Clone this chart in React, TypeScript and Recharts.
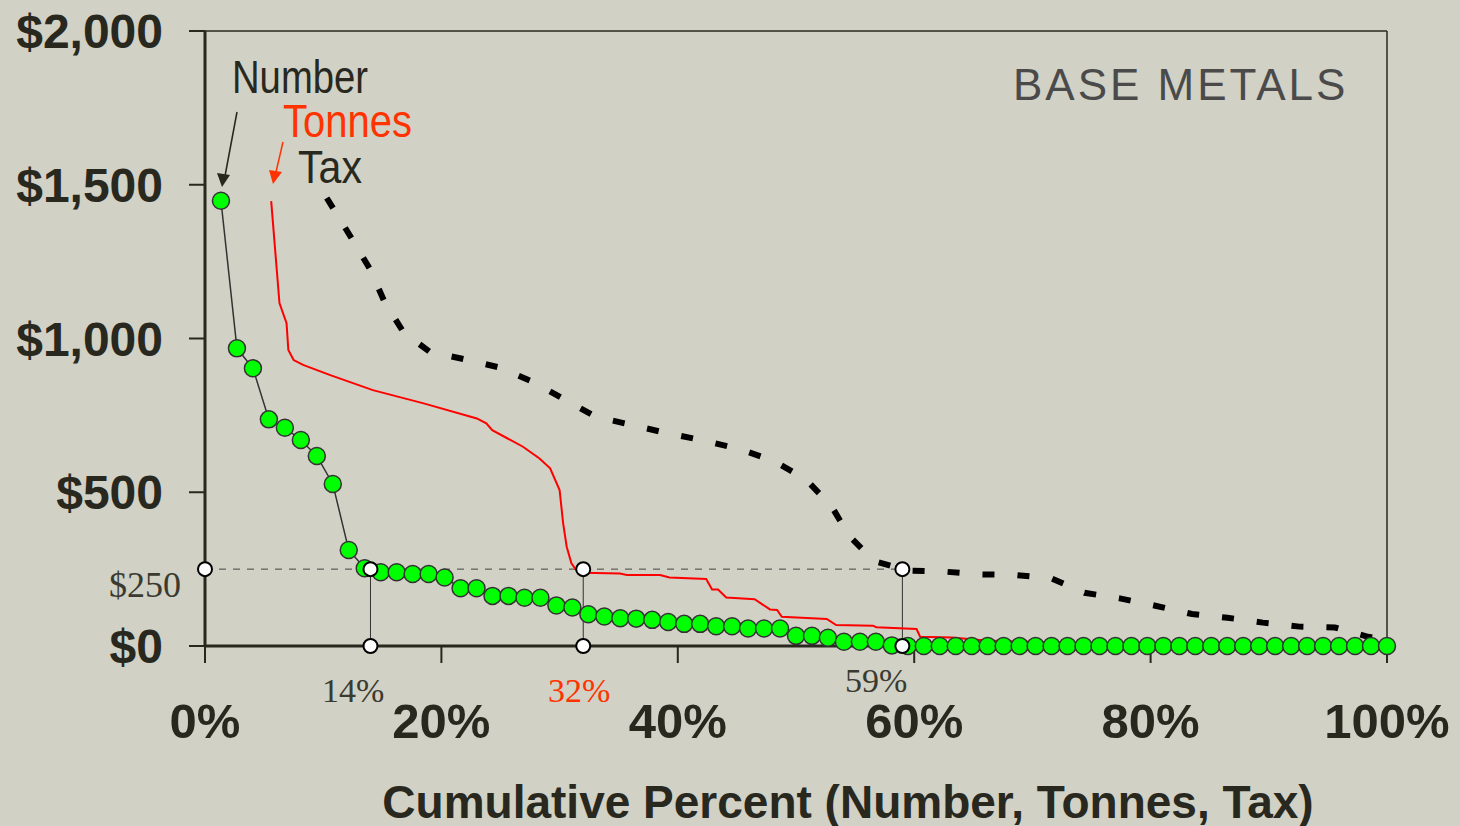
import React from 'react';
import {
  ComposedChart, Line, XAxis, YAxis, ReferenceLine, ReferenceDot,
} from 'recharts';

// tax per mine ($), sorted high to low; one point per mine
const numberValues = [
  1448, 968, 903, 737, 710, 670, 618, 527, 312, 253,
  240, 240, 234, 234, 223, 188, 188, 163, 163, 157,
  157, 132, 125, 103, 96, 90, 89, 85, 78, 72,
  72, 64, 64, 57, 57, 57, 33, 33, 27, 14,
  14, 14, 2, 0, 0, 0, 0, 0, 0, 0,
  0, 0, 0, 0, 0, 0, 0, 0, 0, 0,
  0, 0, 0, 0, 0, 0, 0, 0, 0, 0,
  0, 0, 0, 0,
];

// cumulative percent of tonnes / tax against $ per tonne
const tonnesPct = [
  5.6, 6.3, 6.9, 7.05, 7.5, 8.3, 10.6, 14.2, 18.5, 23.0, 23.8, 24.3, 26.9, 28.3, 29.2,
  30.0, 30.3, 30.6, 31.0, 31.4, 32.0, 35.1, 35.7, 38.5, 39.3, 42.4, 42.9, 43.4, 44.1,
  46.5, 47.8, 48.4, 48.8, 52.6, 53.4, 56.5, 56.8, 60.2, 60.5, 63.2, 66, 75, 100,
];
const tonnesValues = [
  1447, 1115, 1050, 963, 930, 914, 881, 832, 789, 740, 724, 702, 648, 610, 578,
  507, 399, 323, 269, 247, 238, 236, 231, 231, 223, 218, 184, 184, 158,
  152, 119, 117, 95, 88, 68, 66, 61, 55, 30, 28, 18, 8, 0,
];

const taxPct = [
  10.3, 12.4, 14.0, 15.2, 16.8, 19.0, 22.0, 24.9, 27.7, 30.4, 33.1, 36.1, 39.1, 42.2,
  45.2, 48.1, 50.8, 53.0, 54.5, 56.6, 59.5, 62.5, 65.5, 68.5, 71.6, 74.4, 77.4, 80.4,
  83.5, 86.5, 89.5, 92.6, 95.6, 98.4, 100,
];
const taxValues = [
  1457, 1326, 1223, 1118, 1020, 957, 932, 906, 860, 802, 745, 719, 692, 668,
  641, 602, 543, 455, 358, 276, 245, 242, 233, 231, 220, 173, 155, 131,
  104, 92, 76, 63, 60, 30, 18,
];

const xTicks = [0, 20, 40, 60, 80, 100];
const yTicks = [0, 500, 1000, 1500, 2000];
const cutoff = 250;
const cutoffPct = [14, 32, 59];
const cutoffColors = ['#3a3a30', '#ff3300', '#3a3a30'];

const numberData = numberValues.map((y, i) => ({ x: ((i + 1) / numberValues.length) * 100, y }));
const tonnesData = tonnesPct.map((x, i) => ({ x, y: tonnesValues[i] }));
const taxData = taxPct.map((x, i) => ({ x, y: taxValues[i] }));

const ink = '#28281f';
const bold = { fontFamily: '"Liberation Sans", Arial, sans-serif', fontWeight: 'bold' as const };
const narrow = '"Liberation Sans Narrow", "Arial Narrow", "Liberation Sans", sans-serif';
const serif = '"Liberation Serif", "Times New Roman", serif';

export default function App() {
  return (
    <div style={{ position: 'absolute', left: 0, top: 0, width: 1460, height: 826, background: '#d1d1c5' }}>
      <ComposedChart width={1460} height={826} margin={{ top: 31, right: 73, bottom: 10, left: 10 }}>
        <XAxis
          type="number" dataKey="x" domain={[0, 100]} ticks={xTicks}
          tickFormatter={(v) => `${v}%`}
          height={170} tickSize={17} tickMargin={40}
          axisLine={{ stroke: ink, strokeWidth: 3 }}
          tickLine={{ stroke: ink, strokeWidth: 2 }}
          tick={{ fill: ink, fontSize: 49, ...bold }}
          label={{
            value: 'Cumulative Percent (Number, Tonnes, Tax)', position: 'insideBottom', offset: -2, dx: 52,
            fill: ink, fontSize: 46, ...bold,
          }}
        />
        <YAxis
          type="number" dataKey="y" domain={[0, 2000]} ticks={yTicks}
          tickFormatter={(v) => `$${v.toLocaleString('en-US')}`}
          width={195} tickSize={16} tickMargin={26}
          axisLine={{ stroke: ink, strokeWidth: 3 }}
          tickLine={{ stroke: ink, strokeWidth: 2 }}
          tick={{ fill: ink, fontSize: 48, ...bold }}
        />
        <ReferenceLine y={2000} stroke={ink} strokeWidth={1.5} />
        <ReferenceLine x={100} stroke={ink} strokeWidth={1.5} />
        <ReferenceLine
          segment={[{ x: 0, y: cutoff }, { x: cutoffPct[2], y: cutoff }]}
          stroke="#444" strokeWidth={1} strokeDasharray="7 7"
        />
        {cutoffPct.map((p) => (
          <ReferenceLine key={`v${p}`} segment={[{ x: p, y: 0 }, { x: p, y: cutoff }]} stroke="#333" strokeWidth={1} />
        ))}
        <Line
          data={taxData} dataKey="y" type="linear" stroke="#000" strokeWidth={6}
          strokeDasharray="12 23" dot={false} isAnimationActive={false}
        />
        <Line
          data={tonnesData} dataKey="y" type="linear" stroke="#ff0000" strokeWidth={2}
          dot={false} isAnimationActive={false}
        />
        <Line
          data={numberData} dataKey="y" type="linear" stroke="#333" strokeWidth={1.5}
          dot={{ r: 8.5, fill: '#00ff00', stroke: '#333', strokeWidth: 1.5 }}
          isAnimationActive={false}
        />
        <ReferenceDot x={0} y={cutoff} r={7} fill="#fff" stroke="#000" strokeWidth={2} ifOverflow="visible" />
        {cutoffPct.map((p) => (
          <ReferenceDot key={`t${p}`} x={p} y={cutoff} r={7} fill="#fff" stroke="#000" strokeWidth={2} ifOverflow="visible" />
        ))}
        {cutoffPct.map((p) => (
          <ReferenceDot key={`b${p}`} x={p} y={0} r={7} fill="#fff" stroke="#000" strokeWidth={2} ifOverflow="visible" />
        ))}
      </ComposedChart>

      <svg width={1460} height={826} style={{ position: 'absolute', left: 0, top: 0, pointerEvents: 'none' }}>
        <text x={1013} y={100} fill="#4a4a4a" fontSize={44} fontFamily='"Liberation Sans", Arial, sans-serif' letterSpacing={3}>
          BASE METALS
        </text>
        <text x={232} y={93} fill={ink} fontSize={46} fontFamily={narrow} textLength={136} lengthAdjust="spacingAndGlyphs">Number</text>
        <text x={283} y={137} fill="#ff3300" fontSize={46} fontFamily={narrow} textLength={129} lengthAdjust="spacingAndGlyphs">Tonnes</text>
        <text x={298} y={183} fill={ink} fontSize={46} fontFamily={narrow} textLength={64} lengthAdjust="spacingAndGlyphs">Tax</text>
        <line x1={237} y1={112} x2={225} y2={176} stroke={ink} strokeWidth={1.5} />
        <polygon points="222,187 217,173 230,175" fill={ink} />
        <line x1={283} y1={142} x2={276} y2={172} stroke="#ff3300" strokeWidth={1.5} />
        <polygon points="273,184 269,170 282,172" fill="#ff3300" />
        <text x={109} y={597} fill="#3a3a30" fontSize={36} fontFamily={serif}>$250</text>
        <text x={322} y={702} fill={cutoffColors[0]} fontSize={34} fontFamily={serif}>{`${cutoffPct[0]}%`}</text>
        <text x={548} y={702} fill={cutoffColors[1]} fontSize={34} fontFamily={serif}>{`${cutoffPct[1]}%`}</text>
        <text x={845} y={692} fill={cutoffColors[2]} fontSize={34} fontFamily={serif}>{`${cutoffPct[2]}%`}</text>
      </svg>
    </div>
  );
}
